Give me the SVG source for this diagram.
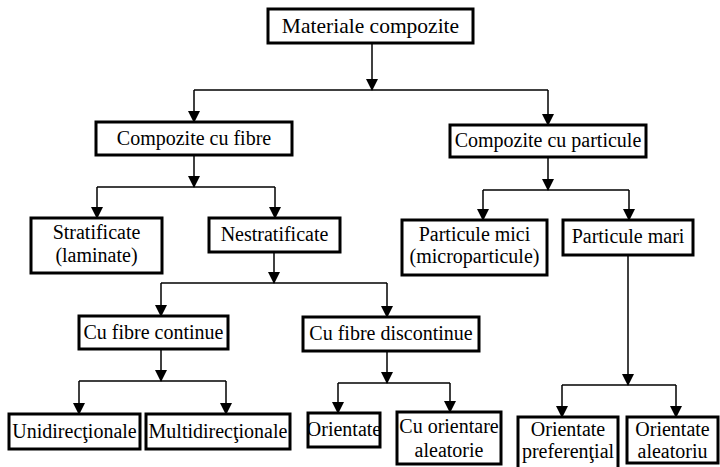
<svg xmlns="http://www.w3.org/2000/svg" width="720" height="467" viewBox="0 0 720 467">
<defs>
<marker id="arr" markerUnits="userSpaceOnUse" markerWidth="12" markerHeight="12" viewBox="0 0 12 12" refX="11" refY="6" orient="auto">
<path d="M0,0 L12,6 L0,12 Z" fill="#000"/>
</marker>
<style>
.box{fill:#fff;stroke:#000;stroke-width:3}
.t{font-family:"Liberation Serif","Times New Roman","DejaVu Serif",serif;font-size:20px;fill:#000;text-anchor:middle}
.c path{fill:none;stroke:#000;stroke-width:1.5}
.c path.a{marker-end:url(#arr)}
</style>
</defs>
<rect width="720" height="467" fill="#fff"/>
<g class="c" id="connectors">
<path class="a" d="M372,43 V90"/>
<path d="M194,90 H548"/>
<path class="a" d="M194,90 V122"/>
<path class="a" d="M548,90 V125"/>
<path class="a" d="M194,155 V187"/>
<path d="M97,187 H275"/>
<path class="a" d="M97,187 V218"/>
<path class="a" d="M275,187 V218"/>
<path class="a" d="M548,157 V190"/>
<path d="M483,190 H629"/>
<path class="a" d="M483,190 V220"/>
<path class="a" d="M629,190 V220"/>
<path class="a" d="M274,252 V283"/>
<path d="M161,283 H387"/>
<path class="a" d="M161,283 V316"/>
<path class="a" d="M387,283 V317"/>
<path class="a" d="M161,349 V381"/>
<path d="M79,381 H226"/>
<path class="a" d="M79,381 V414"/>
<path class="a" d="M226,381 V414"/>
<path class="a" d="M387,351 V383"/>
<path d="M338,383 H450"/>
<path class="a" d="M338,383 V413"/>
<path class="a" d="M450,383 V412"/>
<path class="a" d="M628,255 V385"/>
<path d="M562,385 H676"/>
<path class="a" d="M562,385 V417"/>
<path class="a" d="M676,385 V417"/>
</g>
<g id="n-materiale"><rect class="box" x="268" y="9" width="205" height="34"/><text class="t" x="370.5" y="33" style="font-size:21.5px">Materiale compozite</text></g>
<g id="n-fibre"><rect class="box" x="96" y="122" width="196" height="33"/><text class="t" x="194" y="145">Compozite cu fibre</text></g>
<g id="n-particule"><rect class="box" x="450" y="125" width="196" height="32"/><text class="t" x="548" y="147">Compozite cu particule</text></g>
<g id="n-stratificate"><rect class="box" x="31" y="218" width="131" height="55"/><text class="t" x="96.5" y="239">Stratificate</text><text class="t" x="96.5" y="262">(laminate)</text></g>
<g id="n-nestratificate"><rect class="box" x="209" y="218" width="131" height="34"/><text class="t" x="274.5" y="241">Nestratificate</text></g>
<g id="n-mici"><rect class="box" x="402" y="220" width="145" height="55"/><text class="t" x="474.5" y="241">Particule mici</text><text class="t" x="474.5" y="263">(microparticule)</text></g>
<g id="n-mari"><rect class="box" x="563" y="220" width="130" height="35"/><text class="t" x="628" y="243">Particule mari</text></g>
<g id="n-continue"><rect class="box" x="79" y="316" width="149" height="33"/><text class="t" x="153.5" y="339">Cu fibre continue</text></g>
<g id="n-discontinue"><rect class="box" x="303" y="317" width="176" height="34"/><text class="t" x="391" y="340">Cu fibre discontinue</text></g>
<g id="n-uni"><rect class="box" x="9" y="414" width="131" height="35"/><text class="t" x="74.5" y="438">Unidirecţionale</text></g>
<g id="n-multi"><rect class="box" x="146" y="414" width="144" height="35"/><text class="t" x="218" y="438">Multidirecţionale</text></g>
<g id="n-orientate"><rect class="box" x="308" y="413" width="72" height="34"/><text class="t" x="344" y="436">Orientate</text></g>
<g id="n-aleatorie"><rect class="box" x="397" y="412" width="104" height="52"/><text class="t" x="449" y="433">Cu orientare</text><text class="t" x="449" y="457">aleatorie</text></g>
<g id="n-preferential"><rect class="box" x="518" y="417" width="100" height="54"/><text class="t" x="568" y="436">Orientate</text><text class="t" x="568" y="458">preferenţial</text></g>
<g id="n-aleatoriu"><rect class="box" x="627" y="417" width="91" height="46"/><text class="t" x="672.5" y="436">Orientate</text><text class="t" x="672.5" y="458">aleatoriu</text></g>
</svg>
